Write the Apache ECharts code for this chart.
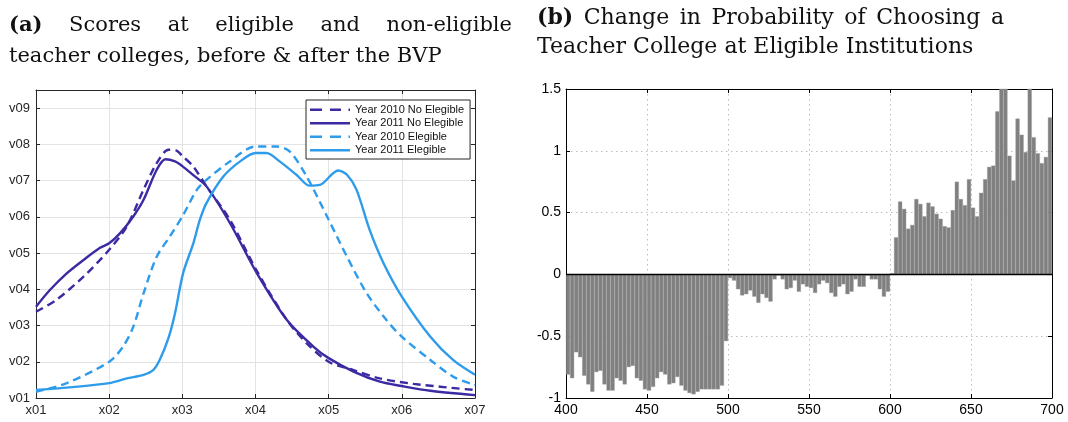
<!DOCTYPE html>
<html><head><meta charset="utf-8">
<script src="https://cdn.jsdelivr.net/npm/echarts@6/dist/echarts.min.js"></script>
<style>html,body{margin:0;padding:0;background:#fff}#c{width:1068px;height:422px}</style>
</head><body><div id="c"></div>
<script>
// ---------- Panel (a) data ----------
const xTickLabels = ['x01','x02','x03','x04','x05','x06','x07'];
const yTickLabels = ['v01','v02','v03','v04','v05','v06','v07','v08','v09'];
const seriesNames = ['Year 2010 No Elegible','Year 2011 No Elegible','Year 2010 Elegible','Year 2011 Elegible'];

const noElig2010X = [1.0, 1.28, 1.65, 2.0, 2.24, 2.47, 2.65, 2.81, 2.92, 3.0, 3.15, 3.33, 3.65, 4.02, 4.43, 4.70, 5.0, 5.34, 5.70, 6.16, 7.0];
const noElig2010Y = [3.38, 3.71, 4.35, 5.09, 5.73, 6.75, 7.48, 7.85, 7.83, 7.68, 7.39, 6.84, 5.92, 4.50, 3.15, 2.51, 2.00, 1.77, 1.54, 1.39, 1.22];

const noElig2011X = [1.0, 1.19, 1.42, 1.65, 1.87, 2.0, 2.15, 2.33, 2.47, 2.65, 2.77, 2.9, 3.0, 3.15, 3.33, 3.65, 4.02, 4.43, 4.79, 5.0, 5.34, 5.70, 6.0, 6.39, 7.0];
const noElig2011Y = [3.52, 3.98, 4.44, 4.81, 5.14, 5.27, 5.55, 6.01, 6.47, 7.30, 7.59, 7.53, 7.40, 7.15, 6.84, 5.83, 4.44, 3.15, 2.42, 2.10, 1.73, 1.45, 1.33, 1.20, 1.08];

const elig2010X = [1.0, 1.42, 2.0, 2.19, 2.33, 2.47, 2.65, 2.83, 3.0, 3.2, 3.33, 3.65, 4.0, 4.29, 4.47, 4.70, 5.0, 5.25, 5.52, 5.79, 6.0, 6.39, 6.70, 7.0];
const elig2010Y = [1.17, 1.41, 2.0, 2.42, 2.97, 3.89, 4.90, 5.46, 6.01, 6.75, 7.02, 7.53, 7.94, 7.94, 7.80, 7.11, 5.92, 4.90, 3.89, 3.15, 2.69, 2.05, 1.59, 1.36];

const elig2011X = [1.0, 1.5, 2.0, 2.24, 2.47, 2.60, 2.69, 2.81, 2.90, 3.01, 3.15, 3.24, 3.33, 3.56, 3.79, 4.0, 4.15, 4.33, 4.56, 4.74, 4.88, 5.13, 5.25, 5.38, 5.56, 5.75, 6.0, 6.39, 6.70, 7.0];
const elig2011Y = [1.22, 1.30, 1.41, 1.54, 1.64, 1.77, 2.05, 2.65, 3.34, 4.44, 5.27, 5.92, 6.38, 7.11, 7.53, 7.76, 7.76, 7.53, 7.16, 6.86, 6.88, 7.28, 7.16, 6.75, 5.64, 4.72, 3.80, 2.69, 2.05, 1.64];

// ---------- Panel (b) data ----------
const scoreBinStart = [
 400,402.5,405,407.5,410,412.5,415,417.5,420,422.5,425,427.5,430,432.5,435,437.5,440,442.5,445,447.5,
 450,452.5,455,457.5,460,462.5,465,467.5,470,472.5,475,477.5,480,482.5,485,487.5,490,492.5,495,497.5,
 500,502.5,505,507.5,510,512.5,515,517.5,520,522.5,525,527.5,530,532.5,535,537.5,540,542.5,545,547.5,
 550,552.5,555,557.5,560,562.5,565,567.5,570,572.5,575,577.5,580,582.5,585,587.5,590,592.5,595,597.5,
 600,602.5,605,607.5,610,612.5,615,617.5,620,622.5,625,627.5,630,632.5,635,637.5,640,642.5,645,647.5,
 650,652.5,655,657.5,660,662.5,665,667.5,670,672.5,675,677.5,680,682.5,685,687.5,690,692.5,695,697.5];
const binWidth = 2.5;
const probChange = [
 -0.81,-0.84,-0.63,-0.67,-0.82,-0.89,-0.95,-0.79,-0.78,-0.89,-0.94,-0.94,-0.84,-0.86,-0.89,-0.75,-0.74,-0.84,-0.86,-0.93,
 -0.94,-0.91,-0.84,-0.79,-0.81,-0.89,-0.88,-0.83,-0.90,-0.94,-0.96,-0.97,-0.95,-0.93,-0.93,-0.93,-0.93,-0.93,-0.90,-0.54,
 -0.03,-0.05,-0.12,-0.17,-0.16,-0.13,-0.18,-0.23,-0.16,-0.19,-0.22,-0.04,-0.01,-0.04,-0.12,-0.11,-0.05,-0.14,-0.08,-0.10,
 -0.11,-0.15,-0.08,-0.05,-0.07,-0.15,-0.18,-0.10,-0.08,-0.16,-0.14,-0.04,-0.10,-0.10,-0.01,-0.04,-0.04,-0.12,-0.18,-0.14,
 0.01,0.30,0.59,0.53,0.37,0.40,0.61,0.57,0.47,0.58,0.55,0.49,0.45,0.39,0.38,0.52,0.75,0.61,0.56,0.77,
 0.54,0.47,0.66,0.77,0.87,0.88,1.32,1.60,1.60,0.96,0.76,1.26,1.13,0.99,1.60,1.11,0.98,0.90,0.95,1.27];

// ---------- titles ----------
const titleA1 = ['(a)', 'Scores', 'at', 'eligible', 'and', 'non-eligible'];
const titleA2 = 'teacher colleges, before & after the BVP';
const titleB1 = ['(b)', 'Change', 'in', 'Probability', 'of', 'Choosing', 'a'];
const titleB2 = 'Teacher College at Eligible Institutions';

// ---------- build ----------
const zip = (xs, ys) => xs.map((x, i) => [x, ys[i]]);
const darkC = '#3b2ba3', lightC = '#2f9ceb';
const axisCol = '#262626';
const sansFont = 'Liberation Sans, Arial, Helvetica, sans-serif';
const serif = 'DejaVu Serif, serif';
const measureCtx = document.createElement('canvas').getContext('2d');

// justified line: first word bold, words spread between x0 and x1
function justified(words, x0, x1, top, size) {
  const fonts = words.map((w, i) => (i === 0 ? 'bold ' : '') + size + 'px ' + serif);
  const widths = words.map((w, i) => { measureCtx.font = fonts[i]; return measureCtx.measureText(w).width; });
  const total = widths.reduce((a, b) => a + b, 0);
  const gap = (x1 - x0 - total) / (words.length - 1);
  let x = x0;
  return words.map((w, i) => {
    const el = { type: 'text', left: x, top, style: { text: w, font: fonts[i], fill: '#111' } };
    x += widths[i] + gap;
    return el;
  });
}

function lineSeries(name, data, color, dashed) {
  return {
    name, type: 'line', xAxisIndex: 0, yAxisIndex: 0, data, symbol: 'none', smooth: 0.3,
    lineStyle: { color, width: 2.4, type: dashed ? [8, 5] : 'solid' },
    itemStyle: { color }, z: dashed ? 3 : 4
  };
}
const solidIcon = 'path://M0,0H40V2.4H0Z';
const dashIcon = 'path://M0,0H12V2.4H0Z M20,0H31V2.4H20Z M38.5,0H40V2.4H38.5Z';

const gridA = { left: 36, right: 593, top: 90, bottom: 24 };
const gridB = { left: 566, right: 16, top: 89, bottom: 24 };

function frameAxis(grid, min, max, interval, position, col, extra) {
  return Object.assign({
    gridIndex: grid, type: 'value', min, max, interval, position,
    axisLine: { show: true, onZero: false, lineStyle: { color: col, width: 1 } },
    axisTick: { show: true, inside: true, length: 4, lineStyle: { color: col } },
    axisLabel: { show: false }, splitLine: { show: false }
  }, extra || {});
}

const option = {
  animation: false,
  backgroundColor: '#fff',
  graphic: [].concat(
    justified(titleA1, 9, 512, 15, 21),
    [{ type: 'text', left: 9, top: 46, style: { text: titleA2, font: '21px ' + serif, fill: '#111' } }],
    justified(titleB1, 537, 1004, 7, 22),
    [{ type: 'text', left: 537, top: 36, style: { text: titleB2, font: '22px ' + serif, fill: '#111' } }]
  ),
  legend: {
    data: [
      { name: seriesNames[0], icon: dashIcon },
      { name: seriesNames[1], icon: solidIcon },
      { name: seriesNames[2], icon: dashIcon },
      { name: seriesNames[3], icon: solidIcon }
    ],
    orient: 'vertical', left: 306, top: 100,
    padding: [3, 6, 2, 4], itemGap: 0, itemWidth: 40, itemHeight: 2.4,
    backgroundColor: '#fff', borderColor: axisCol, borderWidth: 1,
    textStyle: { fontFamily: sansFont, fontSize: 11, color: '#111', lineHeight: 13.5 }
  },
  grid: [gridA, gridB],
  xAxis: [
    frameAxis(0, 1, 7, 1, 'bottom', axisCol, {
      axisLabel: { fontFamily: sansFont, fontSize: 13, color: axisCol, margin: 6, formatter: v => xTickLabels[Math.round(v) - 1] || '' },
      splitLine: { show: true, lineStyle: { color: '#e3e3e3', width: 1 } } }),
    frameAxis(0, 1, 7, 1, 'top', axisCol),
    frameAxis(1, 400, 700, 50, 'bottom', '#000', {
      axisLabel: { fontFamily: sansFont, fontSize: 14, color: '#000', margin: 5 },
      splitLine: { show: true, lineStyle: { color: '#bdbdbd', width: 1, type: [1.5, 3.5] } } }),
    frameAxis(1, 400, 700, 50, 'top', '#000')
  ],
  yAxis: [
    frameAxis(0, 1, 9.5, 1, 'left', axisCol, {
      axisLabel: { fontFamily: sansFont, fontSize: 13, color: axisCol, margin: 6,
        formatter: v => (Math.abs(v - Math.round(v)) < 1e-6 ? (yTickLabels[Math.round(v) - 1] || '') : '') },
      splitLine: { show: true, lineStyle: { color: '#e3e3e3', width: 1 } } }),
    frameAxis(0, 1, 9.5, 1, 'right', axisCol),
    frameAxis(1, -1, 1.5, 0.5, 'left', '#000', {
      axisLabel: { fontFamily: sansFont, fontSize: 14, color: '#000', margin: 5 },
      splitLine: { show: true, lineStyle: { color: '#bdbdbd', width: 1, type: [1.5, 3.5] } } }),
    frameAxis(1, -1, 1.5, 0.5, 'right', '#000')
  ],
  series: [
    lineSeries(seriesNames[0], zip(noElig2010X, noElig2010Y), darkC, true),
    lineSeries(seriesNames[1], zip(noElig2011X, noElig2011Y), darkC, false),
    lineSeries(seriesNames[2], zip(elig2010X, elig2010Y), lightC, true),
    lineSeries(seriesNames[3], zip(elig2011X, elig2011Y), lightC, false),
    {
      name: 'prob', type: 'bar', xAxisIndex: 2, yAxisIndex: 2,
      data: scoreBinStart.map((s, i) => [s + binWidth / 2, probChange[i]]),
      barWidth: 4.1, clip: true,
      itemStyle: { color: '#808080', borderColor: '#9c9c9c', borderWidth: 0.4 },
      markLine: { silent: true, symbol: 'none', label: { show: false },
        lineStyle: { color: '#000', width: 1.3, type: 'solid' }, data: [{ yAxis: 0 }] }
    }
  ]
};

const chart = echarts.init(document.getElementById('c'), null, { renderer: 'canvas' });
chart.setOption(option);
</script>
</body></html>
